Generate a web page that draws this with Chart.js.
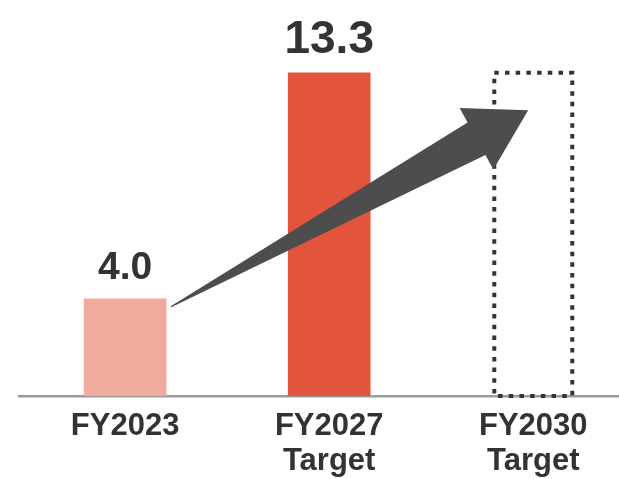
<!DOCTYPE html>
<html>
<head>
<meta charset="utf-8">
<script src="https://cdn.jsdelivr.net/npm/chart.js@4.4.1/dist/chart.umd.min.js"></script>
<style>
  html, body { margin: 0; padding: 0; background: #fff; }
  #wrap { width: 619px; height: 479px; }
</style>
</head>
<body>
<div id="wrap"><canvas id="goalChart"></canvas></div>
<script>
const categories = [['FY2023'], ['FY2027', 'Target'], ['FY2030', 'Target']];
const values = [4.0, 13.3, 13.3];
const valueLabels = ['4.0', '13.3', ''];
// growth arrow in data space: [x position, y value]
const arrowFrom = [0.225, 3.67];
const arrowTo = [1.975, 11.76];

const FONT = '"Liberation Sans", Arial, Helvetica, sans-serif';
const TEXT = '#333333';

// FY2030 target is only an outline, dotted
const dottedBox = {
  id: 'dottedBox',
  afterDatasetsDraw(chart) {
    const bar = chart.getDatasetMeta(0).data[2];
    if (!bar) return;
    const { ctx } = chart;
    const half = bar.width / 2;
    ctx.save();
    ctx.strokeStyle = '#333333';
    ctx.lineWidth = 4;
    ctx.setLineDash([4.5, 6.2]);
    ctx.strokeRect(bar.x - half + 2, bar.y, bar.width - 4, bar.base - bar.y);
    ctx.restore();
  }
};

const growthArrow = {
  id: 'growthArrow',
  afterDatasetsDraw(chart) {
    const { ctx, scales: { x, y } } = chart;
    const x0 = x.getPixelForValue(arrowFrom[0]), y0 = y.getPixelForValue(arrowFrom[1]);
    const x1 = x.getPixelForValue(arrowTo[0]), y1 = y.getPixelForValue(arrowTo[1]);
    const len = Math.hypot(x1 - x0, y1 - y0);
    const ux = (x1 - x0) / len, uy = (y1 - y0) / len;
    const nx = -uy, ny = ux;
    const headLen = 59, headHalf = 35, neckHalf = 18.5, tailHalf = 0.6;
    const bx = x1 - ux * headLen, by = y1 - uy * headLen;
    const pts = [
      [x0 + nx * tailHalf, y0 + ny * tailHalf],
      [bx + nx * neckHalf, by + ny * neckHalf],
      [bx + nx * headHalf, by + ny * headHalf],
      [x1, y1],
      [bx - nx * headHalf, by - ny * headHalf],
      [bx - nx * neckHalf, by - ny * neckHalf],
      [x0 - nx * tailHalf, y0 - ny * tailHalf]
    ];
    ctx.save();
    ctx.fillStyle = '#4d4d4d';
    ctx.beginPath();
    pts.forEach(([px, py], i) => i ? ctx.lineTo(px, py) : ctx.moveTo(px, py));
    ctx.closePath();
    ctx.fill();
    ctx.restore();
  }
};

const valueText = {
  id: 'valueText',
  afterDatasetsDraw(chart) {
    const { ctx } = chart;
    const sizes = [39, 46, 0];
    chart.getDatasetMeta(0).data.forEach((bar, i) => {
      if (!valueLabels[i]) return;
      ctx.save();
      ctx.fillStyle = TEXT;
      ctx.font = `bold ${sizes[i]}px ${FONT}`;
      ctx.textAlign = 'center';
      ctx.textBaseline = 'alphabetic';
      ctx.fillText(valueLabels[i], bar.x, bar.y - 20);
      ctx.restore();
    });
  }
};

new Chart(document.getElementById('goalChart'), {
  type: 'bar',
  data: {
    datasets: [{
      data: values.map((v, i) => ({ x: i, y: v })),
      backgroundColor: ['#f0aa9e', '#e2553c', 'rgba(0,0,0,0)'],
      borderWidth: 0,
      barThickness: 82
    }]
  },
  options: {
    responsive: true,
    maintainAspectRatio: false,
    animation: false,
    layout: { padding: { left: 19, right: 0, top: 0, bottom: -13 } },
    plugins: {
      legend: { display: false },
      tooltip: { enabled: false }
    },
    scales: {
      x: {
        type: 'linear',
        offset: false,
        min: -0.52,
        max: 2.42,
        afterBuildTicks: axis => { axis.ticks = categories.map((_, i) => ({ value: i })); },
        ticks: {
          callback: (v) => categories[v],
          color: TEXT,
          font: { family: FONT, size: 31, weight: 'bold', lineHeight: 1.13 },
          padding: 13,
          maxRotation: 0,
          autoSkip: false
        },
        grid: { display: false, drawTicks: false },
        border: { display: true, color: '#9b9b9b', width: 2.5 }
      },
      y: {
        display: false,
        min: 0,
        max: 16.3
      }
    }
  },
  plugins: [dottedBox, growthArrow, valueText]
});
</script>
</body>
</html>
